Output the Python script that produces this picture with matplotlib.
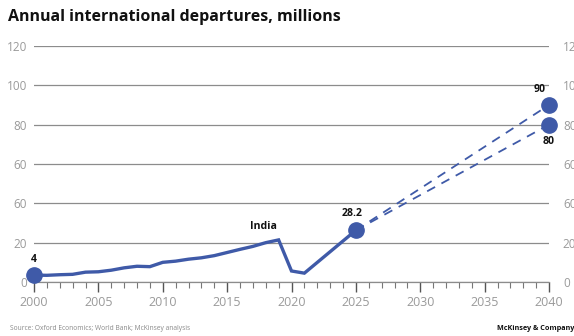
import matplotlib.pyplot as plt
from matplotlib.ticker import MultipleLocator

# history
years = [2000, 2001, 2002, 2003, 2004, 2005, 2006, 2007, 2008, 2009, 2010,
         2011, 2012, 2013, 2014, 2015, 2016, 2017, 2018, 2019, 2020, 2021, 2025]
departures = [3.5, 3.4, 3.7, 3.9, 5.0, 5.2, 6.0, 7.2, 8.0, 7.8, 10.0,
              10.6, 11.6, 12.3, 13.4, 15.0, 16.6, 18.1, 20.0, 21.4, 5.6, 4.5, 26.3]

# projections to 2040
proj_years = [2025, 2040]
proj_high = [26.3, 90]
proj_low = [26.3, 80]

y_ticks = [0, 20, 40, 60, 80, 100, 120]
y_labels = ['0', '20', '60', '60', '80', '100', '120']  # as printed in the source

BLUE = '#3f5aa8'
GRID = '#8c8c8c'
LABEL = '#9a9a9a'

plt.rcParams['font.family'] = ['Open Sans', 'DejaVu Sans']

fig = plt.figure(figsize=(5.74, 3.36), dpi=100)
ax = fig.add_axes([34 / 574, 1 - 282 / 336, (549 - 34) / 574, (282 - 46) / 336])

ax.plot(years, departures, color=BLUE, lw=2.4, zorder=3, solid_joinstyle='miter')
ax.plot(proj_years, proj_high, color=BLUE, lw=1.3, ls=(0, (5, 4)), zorder=3)
ax.plot(proj_years, proj_low, color=BLUE, lw=1.3, ls=(0, (5, 4)), zorder=3)

# end point markers
ax.plot([years[0], years[-1]], [departures[0], departures[-1]], 'o', color=BLUE,
        ms=11, zorder=4, clip_on=False)
ax.plot([2040, 2040], [proj_high[1], proj_low[1]], 'o', color=BLUE,
        ms=11, zorder=4, clip_on=False)

lab = dict(fontsize=7.6, fontweight='bold', color='#111111')
ax.text(2000, 8.5, '4', ha='center', va='bottom', **lab)
ax.text(2024.7, 32, '28.2', ha='center', va='bottom', **lab)
ax.text(2017.8, 25.5, 'India', ha='center', va='bottom', **lab)
ax.text(2039.3, 95, '90', ha='center', va='bottom', **lab)
ax.text(2040, 74, '80', ha='center', va='top', **lab)

ax.set_xlim(2000, 2040)
ax.set_ylim(0, 120)
ax.set_yticks(y_ticks)
ax.set_yticklabels(y_labels)
ax.xaxis.set_major_locator(MultipleLocator(5))
ax.xaxis.set_minor_locator(MultipleLocator(1))

ax.grid(axis='y', color=GRID, lw=0.9)
ax.set_axisbelow(True)
for s in ['top', 'right', 'left']:
    ax.spines[s].set_visible(False)
ax.spines['bottom'].set_color(GRID)
ax.spines['bottom'].set_linewidth(0.9)

ax.tick_params(axis='y', length=0, pad=5, labelsize=8.5, labelcolor=LABEL)
ax.tick_params(axis='x', which='major', length=7, width=1, color='#555555',
               labelsize=9, labelcolor=LABEL, pad=3)
ax.tick_params(axis='x', which='minor', length=4, width=0.8, color='#777777')

ax2 = ax.twinx()
ax2.set_ylim(0, 120)
ax2.set_yticks(y_ticks)
ax2.set_yticklabels(y_labels)
ax2.tick_params(axis='y', length=0, pad=10, labelsize=8.5, labelcolor=LABEL)
for s in ax2.spines.values():
    s.set_visible(False)

fig.text(8 / 574, 1 - 17 / 336, 'Annual international departures, millions',
         fontsize=11.5, fontweight='bold', va='center', ha='left', color='#111111')
fig.text(10 / 574, 1 - 328 / 336, 'Source: Oxford Economics; World Bank; McKinsey analysis',
         fontsize=4.8, color='#888888', va='center', ha='left')
fig.text(1.0, 1 - 328 / 336, 'McKinsey & Company', fontsize=5.2, fontweight='bold',
         color='#111111', va='center', ha='right')

fig.savefig('out.png', dpi=100)
